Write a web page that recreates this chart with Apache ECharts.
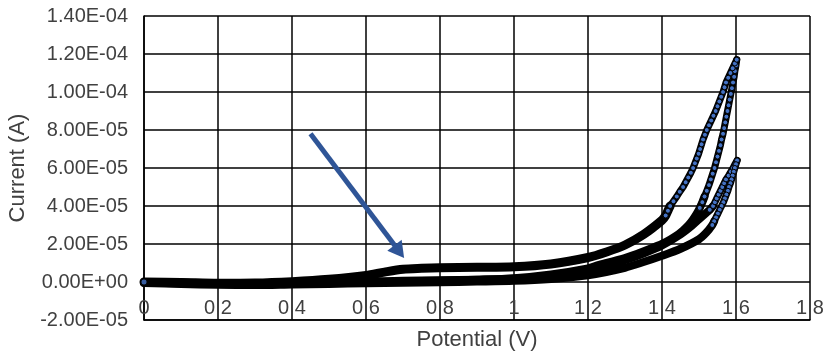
<!DOCTYPE html>
<html>
<head>
<meta charset="utf-8">
<script src="https://cdn.jsdelivr.net/npm/echarts@6/dist/echarts.min.js"></script>
<style>
html,body{margin:0;padding:0;background:#fff}
#chart{width:828px;height:353px}
</style>
</head>
<body>
<div id="chart"></div>
<script>
// ---- tick labels ----
const xTickLabels = ['0','0.2','0.4','0.6','0.8','1','1.2','1.4','1.6','1.8'];
const yTickLabels = ['-2.00E-05','0.00E+00','2.00E-05','4.00E-05','6.00E-05','8.00E-05','1.00E-04','1.20E-04','1.40E-04'];

// ---- data: [Potential (V), Current (A)] ----
// cycle 1, forward scan (low part, with the oxidation shoulder)
const cycle1FwdLow = [[0.00,0e-6],[0.10,-0.2e-6],[0.20,-0.6e-6],[0.30,-0.5e-6],[0.40,0.2e-6],[0.50,1.4e-6],
  [0.60,3.4e-6],[0.65,5.2e-6],[0.70,6.7e-6],[0.75,7.2e-6],[0.80,7.5e-6],[0.90,7.7e-6],[1.00,8.0e-6],
  [1.10,9.5e-6],[1.20,12.9e-6],[1.25,15.8e-6],[1.30,19.5e-6],[1.35,25.0e-6],[1.40,32.5e-6]];
// cycle 1, forward scan (steep part, separate points visible)
const cycle1FwdHigh = [[1.410,35e-6],[1.416,37.5e-6],[1.422,40e-6],[1.431,42.5e-6],[1.440,45e-6],[1.448,47.5e-6],
  [1.457,50e-6],[1.464,52.5e-6],[1.471,55e-6],[1.478,57.5e-6],[1.484,60e-6],[1.489,62.5e-6],[1.494,65e-6],
  [1.499,67.5e-6],[1.503,70e-6],[1.507,72.5e-6],[1.511,75e-6],[1.516,77.5e-6],[1.521,80e-6],[1.527,82.5e-6],
  [1.533,85e-6],[1.539,87.5e-6],[1.545,90e-6],[1.550,92.5e-6],[1.555,95e-6],[1.560,97.5e-6],[1.565,100e-6],
  [1.569,102.5e-6],[1.573,105e-6],[1.579,107.5e-6],[1.585,110e-6],[1.591,112.5e-6],[1.597,115e-6],[1.602,117e-6]];
// cycle 1, reverse scan
const cycle1RevHigh = [[1.602,117e-6],[1.600,114e-6],[1.597,111e-6],[1.595,108e-6],[1.592,105e-6],[1.589,102e-6],
  [1.586,99e-6],[1.583,96e-6],[1.580,93e-6],[1.577,90e-6],[1.574,87e-6],[1.571,84e-6],[1.568,81e-6],[1.565,78e-6],
  [1.561,75e-6],[1.558,72e-6],[1.554,69e-6],[1.550,66e-6],[1.546,63e-6],[1.542,60e-6],[1.537,57e-6],[1.532,54e-6],
  [1.527,51e-6],[1.521,48e-6],[1.515,45e-6],[1.509,42e-6],[1.502,39e-6]];
const cycle1RevLow = [[1.494,36e-6],[1.484,33e-6],[1.472,30e-6],[1.456,27e-6],[1.436,24e-6],[1.410,21e-6],
  [1.375,18e-6],[1.335,15e-6],[1.290,12e-6],[1.230,9e-6],[1.20,7.2e-6],[1.10,4.0e-6],[1.00,2.0e-6],[0.90,1.2e-6],
  [0.80,0.7e-6],[0.70,0.3e-6],[0.60,0e-6],[0.50,-0.4e-6],[0.40,-0.9e-6],[0.30,-1.2e-6],[0.20,-1.1e-6],
  [0.10,-0.7e-6],[0.00,-0.3e-6]];
// cycle 2, forward scan
const cycle2FwdLow = [[0.00,0e-6],[0.10,-0.3e-6],[0.20,-0.7e-6],[0.30,-0.7e-6],[0.40,-0.3e-6],[0.50,0e-6],
  [0.60,0.3e-6],[0.70,0.6e-6],[0.80,0.9e-6],[0.90,1.2e-6],[1.00,1.7e-6],[1.10,3.3e-6],[1.20,6.5e-6],
  [1.25,8.8e-6],[1.30,11.5e-6],[1.35,15e-6],[1.40,19.2e-6],[1.45,25e-6],[1.48,29.5e-6],[1.50,33e-6],[1.52,36.5e-6]];
const cycle2FwdHigh = [[1.529,38e-6],[1.538,40e-6],[1.543,42e-6],[1.548,44e-6],[1.553,46e-6],[1.558,48e-6],
  [1.563,50e-6],[1.568,52e-6],[1.573,54e-6],[1.580,56e-6],[1.586,58e-6],[1.592,60e-6],[1.597,62e-6],[1.603,64e-6]];
// cycle 2, reverse scan
const cycle2RevHigh = [[1.603,64e-6],[1.600,62e-6],[1.597,60e-6],[1.594,58e-6],[1.591,56e-6],[1.588,54e-6],
  [1.585,52e-6],[1.581,50e-6],[1.578,48e-6],[1.574,46e-6],[1.570,44e-6],[1.566,42e-6],[1.561,40e-6],
  [1.556,38e-6],[1.551,36e-6],[1.546,34e-6],[1.541,32e-6],[1.536,30e-6]];
const cycle2RevLow = [[1.52,26e-6],[1.50,22.5e-6],[1.45,17.5e-6],[1.40,13.8e-6],[1.35,10.5e-6],[1.30,7.5e-6],
  [1.20,3.5e-6],[1.10,1.6e-6],[1.00,0.6e-6],[0.90,0.2e-6],[0.80,-0.1e-6],[0.70,-0.4e-6],[0.60,-0.7e-6],
  [0.50,-1.0e-6],[0.40,-1.3e-6],[0.30,-1.6e-6],[0.20,-1.5e-6],[0.10,-1.0e-6],[0.00,-0.5e-6]];
// annotation arrow (from, to) in data coordinates
const arrowFrom = [0.45, 78e-6];
const arrowTo = [0.69, 16e-6];

// ---- styles ----
const FONT = 'Liberation Sans, Arial, sans-serif';
const LABEL_COLOR = '#404040';
const MARK_FILL = '#4472C4';

function lowSeries(data, width, extra) {
  return Object.assign({
    type: 'line', data: data, showSymbol: false, symbol: 'none', smooth: 0.3,
    lineStyle: { color: '#000', width: width, cap: 'round', join: 'round' },
    z: 2, silent: true, animation: false
  }, extra || {});
}
function highSeries(data) {
  return {
    type: 'line', data: data, symbol: 'circle', symbolSize: 5, showSymbol: true,
    lineStyle: { color: '#000', width: 7, cap: 'round', join: 'round' },
    itemStyle: { color: MARK_FILL, borderColor: '#000', borderWidth: 1 },
    z: 3, silent: true, animation: false
  };
}

const series = [
  lowSeries(cycle1FwdLow.concat(cycle1FwdHigh.slice(0, 3)), 9, {
    markLine: {
      silent: true, animation: false,
      symbol: ['none', 'triangle'], symbolSize: [18, 16],
      label: { show: false },
      lineStyle: { color: '#2F5597', width: 5, type: 'solid' },
      emphasis: { disabled: true },
      data: [[{ coord: arrowFrom }, { coord: arrowTo }]]
    }
  }),
  lowSeries(cycle1RevHigh.slice(-3).concat(cycle1RevLow), 8),
  lowSeries(cycle2FwdLow.concat(cycle2FwdHigh.slice(0, 2)), 8),
  lowSeries(cycle2RevHigh.slice(-2).concat(cycle2RevLow), 8),
  highSeries(cycle2FwdHigh),
  highSeries(cycle2RevHigh),
  highSeries(cycle1RevHigh),
  highSeries(cycle1FwdHigh),
  {
    type: 'scatter', data: [cycle1FwdLow[0]], symbol: 'circle', symbolSize: 6,
    itemStyle: { color: MARK_FILL, borderColor: '#000', borderWidth: 1 }, z: 4, silent: true, animation: false
  }
];

const chart = echarts.init(document.getElementById('chart'), null, { renderer: 'canvas' });
chart.setOption({
  animation: false,
  backgroundColor: '#fff',
  textStyle: { fontFamily: FONT },
  grid: { left: 144, right: 18, top: 16, bottom: 33, containLabel: false, outerBoundsMode: 'none' },
  xAxis: {
    type: 'value', min: 0, max: 1.8, interval: 0.2,
    name: 'Potential (V)', nameLocation: 'middle', nameGap: 9,
    nameTextStyle: { fontSize: 22, color: LABEL_COLOR, fontFamily: FONT },
    axisLine: { onZero: false, lineStyle: { color: '#000', width: 1.5 } },
    axisTick: { show: false },
    axisLabel: { fontSize: 20, color: LABEL_COLOR, fontFamily: FONT, margin: -22,
      formatter: (v, i) => xTickLabels[i] },
    splitLine: { show: true, lineStyle: { color: '#000', width: 1.5 } }
  },
  yAxis: {
    type: 'value', min: -2e-5, max: 1.4e-4, interval: 2e-5,
    name: 'Current (A)', nameLocation: 'middle', nameGap: 106,
    nameTextStyle: { fontSize: 22, color: LABEL_COLOR, fontFamily: FONT },
    axisLine: { show: true, onZero: false, lineStyle: { color: '#000', width: 1.5 } },
    axisTick: { show: false },
    axisLabel: { fontSize: 20, color: LABEL_COLOR, fontFamily: FONT, margin: 16,
      formatter: (v, i) => yTickLabels[i] },
    splitLine: { show: true, lineStyle: { color: '#000', width: 1.5 } }
  },
  series: series
});
</script>
</body>
</html>
